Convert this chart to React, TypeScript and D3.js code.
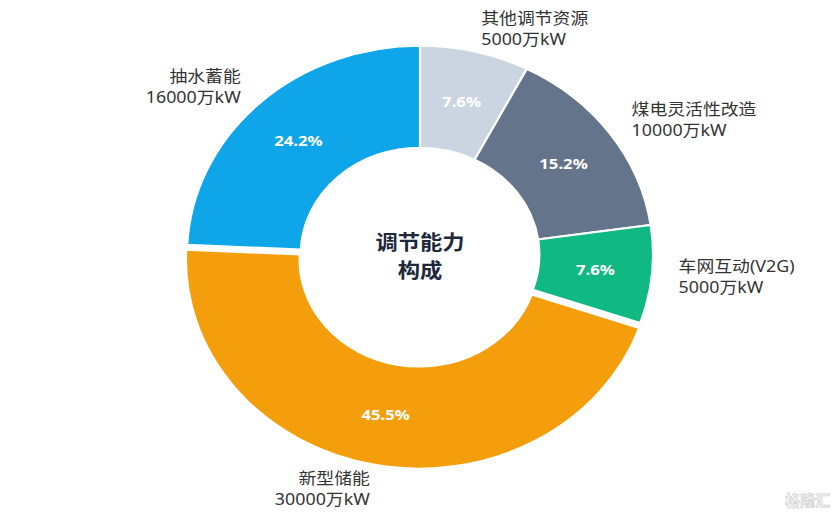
import React from "react";
import * as d3 from "d3";

const names = ["其他调节资源", "煤电灵活性改造", "车网互动(V2G)", "新型储能", "抽水蓄能"];
const values = [5000, 10000, 5000, 30000, 16000];
const colors = ["#cbd5e1", "#64748b", "#10b981", "#f59e0b", "#0ea5e9"];
const unit = "万kW";
const selectedName = "新型储能";
const centerTitle = ["调节能力", "构成"];

const W = 840;
const H = 518;
const CX = 420;
const CY = 254.7;
const SX = 1.115;
const R_OUT = 209;
const R_IN = 107;
const R_LABEL = 233;
const OFFSET = 5;

export default function App() {
  const total = d3.sum(values);
  const pie = d3.pie<number>().sort(null).startAngle(0).endAngle(2 * Math.PI).value((d) => d);
  const arcs = pie(values);
  const arc = d3.arc<d3.PieArcDatum<number>>().innerRadius(R_IN).outerRadius(R_OUT);
  const font = "'Noto Sans', 'Noto Sans CJK SC', sans-serif";

  return (
    <svg
      width={W}
      height={H}
      style={{ position: "fixed", left: 0, top: 0, background: "#fff" }}
    >
      <g transform={`translate(${CX},${CY}) scale(${SX},1)`}>
        {arcs.map((a, i) => {
          const mid = (a.startAngle + a.endAngle) / 2;
          const dx = Math.sin(mid);
          const dy = -Math.cos(mid);
          const off = names[i] === selectedName ? OFFSET : 0;
          const tx = dx * off;
          const ty = dy * off;
          const rMid = (R_IN + R_OUT) / 2;
          const lx = dx * (R_LABEL + off);
          const ly = dy * (R_LABEL + off);
          const anchor = dx >= 0 ? "start" : "end";
          const pct = ((values[i] / total) * 100).toFixed(1) + "%";
          return (
            <g key={names[i]}>
              <path
                d={arc(a) || ""}
                transform={`translate(${tx},${ty})`}
                fill={colors[i]}
                stroke="#fff"
                strokeWidth={2}
              />
              <text
                x={dx * rMid + tx}
                y={dy * rMid + ty}
                textAnchor="middle"
                dominantBaseline="central"
                fill="#fff"
                fontFamily={font}
                fontWeight="bold"
                fontSize={15}
              >
                {pct}
              </text>
              <text
                x={lx}
                y={ly}
                textAnchor={anchor}
                fill="#333"
                fontFamily={font}
                fontSize={16}
              >
                <tspan x={lx} dy={-10.5} dominantBaseline="central">
                  {names[i]}
                </tspan>
                <tspan x={lx} dy={21} dominantBaseline="central">
                  {values[i] + unit}
                </tspan>
              </text>
            </g>
          );
        })}
        <text
          textAnchor="middle"
          fill="#1e293b"
          fontFamily={font}
          fontWeight="bold"
          fontSize={20}
        >
          <tspan x={0} y={-13} dominantBaseline="central">
            {centerTitle[0]}
          </tspan>
          <tspan x={0} y={15} dominantBaseline="central">
            {centerTitle[1]}
          </tspan>
        </text>
      </g>
      <text
        x={830}
        y={506}
        textAnchor="end"
        fill="#fff"
        stroke="#d4d4d4"
        strokeWidth={0.8}
        fontFamily={font}
        fontWeight="bold"
        fontSize={15}
      >
        格隆汇
      </text>
    </svg>
  );
}
